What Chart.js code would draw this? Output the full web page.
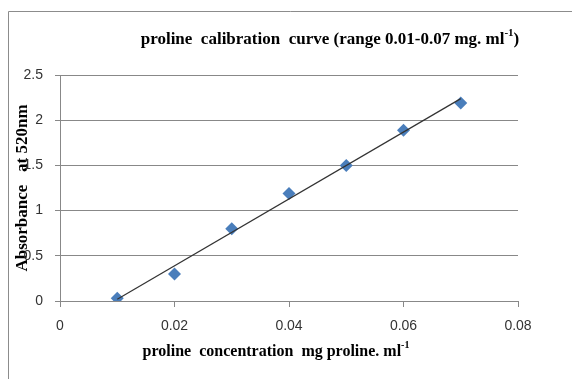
<!DOCTYPE html>
<html>
<head>
<meta charset="utf-8">
<script src="https://cdn.jsdelivr.net/npm/chart.js@4"></script>
<style>
    body { margin: 0; background: #fff; }
    #contenedor { width: 572px; height: 379px; position: relative; }
</style>
</head>
<body>
<div id="contenedor"><canvas id="curvaChart"></canvas></div>
<script>
const concentraciones = [0.01, 0.02, 0.03, 0.04, 0.05, 0.06, 0.07];
const absorbancias = [0.03, 0.30, 0.80, 1.19, 1.50, 1.89, 2.19];
const ticksX = [0, 0.02, 0.04, 0.06, 0.08];
const ticksY = [0, 0.5, 1, 1.5, 2, 2.5];

// Recta de mínimos cuadrados (línea de tendencia, como en Excel)
function lineaTendencia(xs, ys) {
    let n = xs.length;
    let mx = xs.reduce((a, b) => a + b, 0) / n;
    let my = ys.reduce((a, b) => a + b, 0) / n;
    let num = 0, den = 0;
    for (let i = 0; i < n; i++) {
        num += (xs[i] - mx) * (ys[i] - my);
        den += (xs[i] - mx) * (xs[i] - mx);
    }
    let m = num / den;
    let b = my - m * mx;
    let x0 = Math.min(...xs), x1 = Math.max(...xs);
    return [{ x: x0, y: m * x0 + b }, { x: x1, y: m * x1 + b }];
}

// Texto con superíndice "-1"
function textoSuper(ctx, base, sup, resto, cx, cy, size) {
    const fBase = "bold " + size + "px 'Liberation Serif'";
    const fSup = "bold " + Math.round(size * 0.62) + "px 'Liberation Serif'";
    ctx.font = fBase;
    let wBase = ctx.measureText(base).width;
    let wResto = ctx.measureText(resto).width;
    ctx.font = fSup;
    let wSup = ctx.measureText(sup).width;
    let x = cx - (wBase + wSup + wResto) / 2;
    ctx.textAlign = "left";
    ctx.textBaseline = "middle";
    ctx.fillStyle = "#000";
    ctx.font = fBase;
    ctx.fillText(base, x, cy);
    ctx.font = fSup;
    ctx.fillText(sup, x + wBase, cy - size * 0.38);
    ctx.font = fBase;
    ctx.fillText(resto, x + wBase + wSup, cy);
}

const marcoYTextos = {
    id: "marcoYTextos",
    beforeDraw(chart) {
        const ctx = chart.ctx;
        ctx.save();
        ctx.strokeStyle = "#8c8c8c";
        ctx.lineWidth = 1;
        ctx.beginPath();
        ctx.moveTo(8.5, 379);
        ctx.lineTo(8.5, 11.5);
        ctx.lineTo(572, 11.5);
        ctx.stroke();
        ctx.restore();
    },
    afterDraw(chart) {
        const ctx = chart.ctx;
        ctx.save();
        textoSuper(ctx, "proline  calibration  curve (range 0.01-0.07 mg. ml", "-1", ")", 330, 40, 17);
        textoSuper(ctx, "proline  concentration  mg proline. ml", "-1", "", 276, 352, 16);
        ctx.restore();
    }
};

let ctx = document.getElementById("curvaChart").getContext("2d");
let curvaChart = new Chart(ctx, {
    type: "scatter",
    data: {
        datasets: [
            {
                label: "tendencia",
                type: "line",
                data: lineaTendencia(concentraciones, absorbancias),
                borderColor: "#333333",
                borderWidth: 1.2,
                pointRadius: 0,
                fill: false,
                order: 0
            },
            {
                label: "absorbancia",
                data: concentraciones.map((c, i) => ({ x: c, y: absorbancias[i] })),
                pointStyle: "rectRot",
                pointRadius: 6.5,
                backgroundColor: "#4a7ebb",
                borderColor: "#4a7ebb",
                borderWidth: 0,
                order: 1
            }
        ]
    },
    options: {
        responsive: true,
        maintainAspectRatio: false,
        animation: false,
        layout: { padding: { left: 12, right: 54, top: 75, bottom: 15 } },
        plugins: {
            legend: { display: false },
            tooltip: { enabled: false }
        },
        scales: {
            x: {
                type: "linear",
                min: 0,
                max: 0.08,
                afterBuildTicks: (s) => { s.ticks = ticksX.map(v => ({ value: v })); },
                afterFit: (s) => { s.height = 63; },
                grid: { drawOnChartArea: false, drawTicks: true, tickLength: 6, color: "#888888" },
                border: { display: true, color: "#888888" },
                ticks: {
                    padding: 11,
                    color: "#333333",
                    font: { family: "'Liberation Sans'", size: 14 },
                    maxRotation: 0,
                    callback: (v) => String(v)
                }
            },
            y: {
                min: 0,
                max: 2.5,
                afterBuildTicks: (s) => { s.ticks = ticksY.map(v => ({ value: v })); },
                afterFit: (s) => { s.width = 48; },
                grid: { color: "#888888", drawTicks: true, tickLength: 5 },
                border: { display: true, color: "#888888" },
                ticks: {
                    padding: 12,
                    color: "#333333",
                    font: { family: "'Liberation Sans'", size: 14 },
                    callback: (v) => String(v)
                },
                title: {
                    display: true,
                    text: "Absorbance   at 520nm",
                    color: "#000",
                    padding: { top: 0, bottom: 0 },
                    font: { family: "'Liberation Serif'", size: 17, weight: "bold" }
                }
            }
        }
    },
    plugins: [marcoYTextos]
});
</script>
</body>
</html>
